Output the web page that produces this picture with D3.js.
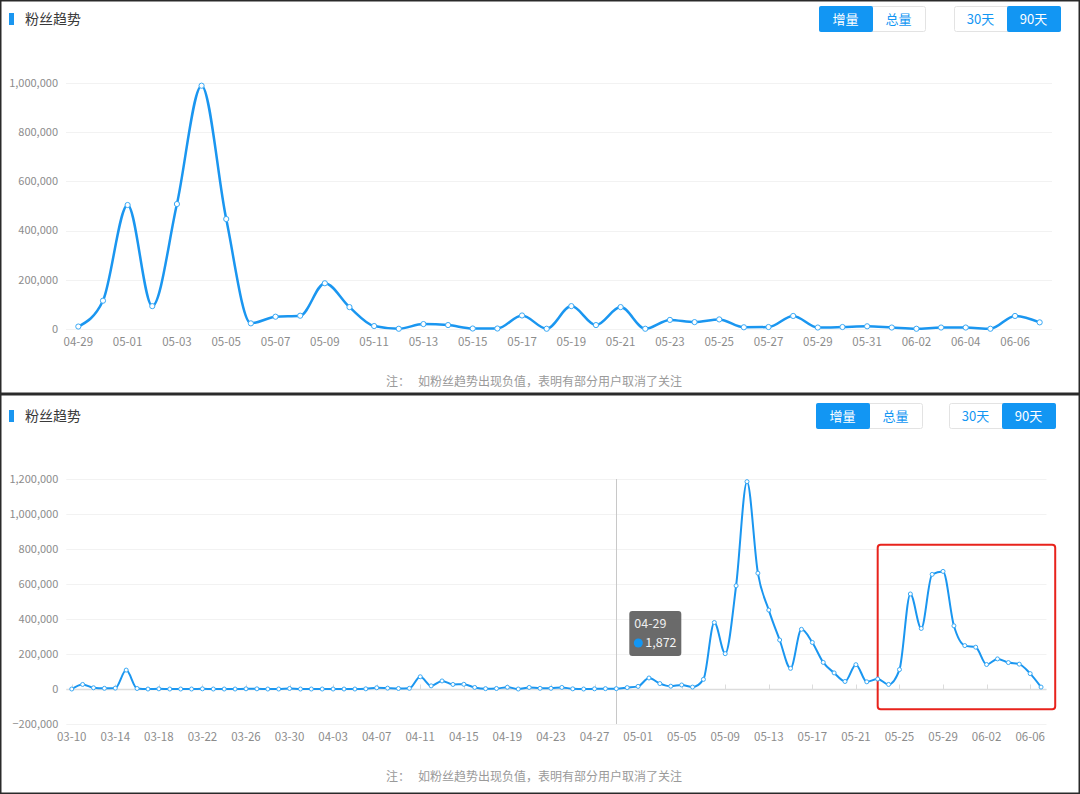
<!DOCTYPE html>
<html>
<head>
<meta charset="utf-8">
<script src="https://cdn.jsdelivr.net/npm/d3@7"></script>
<style>
html,body{margin:0;padding:0;background:#fff;}
svg{display:block;font-family:"PingFang SC","Noto Sans CJK SC","Noto Sans",sans-serif;}
</style>
</head>
<body>
<svg id="chart" width="1080" height="794"></svg>
<script>
// ---------- DATA ----------
const titleText = "粉丝趋势";
const noteText = "注：   如粉丝趋势出现负值，表明有部分用户取消了关注";
const toggleA = ["增量", "总量"];
const toggleB = ["30天", "90天"];

// Panel 1 (30-day view)
const dates30 = ["04-29","04-30","05-01","05-02","05-03","05-04","05-05","05-06","05-07","05-08",
  "05-09","05-10","05-11","05-12","05-13","05-14","05-15","05-16","05-17","05-18",
  "05-19","05-20","05-21","05-22","05-23","05-24","05-25","05-26","05-27","05-28",
  "05-29","05-30","05-31","06-01","06-02","06-03","06-04","06-05","06-06","06-07"];
const values30 = [10000,115000,504000,93000,508000,989000,447000,23000,50000,54000,
  186000,89000,12000,1000,20000,16000,2000,2000,55000,1000,
  93000,16000,89000,1000,37000,28000,39000,7000,8000,53000,
  6000,8000,11000,6000,1000,6000,6000,1000,53000,27000];
const yTicks30 = [0,200000,400000,600000,800000,1000000];
const xLabels30 = ["04-29","05-01","05-03","05-05","05-07","05-09","05-11","05-13","05-15","05-17",
  "05-19","05-21","05-23","05-25","05-27","05-29","05-31","06-02","06-04","06-06"];

// Panel 2 (90-day view)
const dates90 = ["03-10","03-11","03-12","03-13","03-14","03-15","03-16","03-17","03-18","03-19",
  "03-20","03-21","03-22","03-23","03-24","03-25","03-26","03-27","03-28","03-29","03-30","03-31",
  "04-01","04-02","04-03","04-04","04-05","04-06","04-07","04-08","04-09","04-10",
  "04-11","04-12","04-13","04-14","04-15","04-16","04-17","04-18","04-19","04-20",
  "04-21","04-22","04-23","04-24","04-25","04-26","04-27","04-28","04-29","04-30",
  "05-01","05-02","05-03","05-04","05-05","05-06","05-07","05-08","05-09","05-10",
  "05-11","05-12","05-13","05-14","05-15","05-16","05-17","05-18","05-19","05-20",
  "05-21","05-22","05-23","05-24","05-25","05-26","05-27","05-28","05-29","05-30","05-31",
  "06-01","06-02","06-03","06-04","06-05","06-06","06-07"];
const values90 = [0,26000,7000,4000,5000,108000,3000,0,1000,0,
  0,0,1000,0,0,0,1000,1000,0,0,3000,0,
  0,0,0,0,0,1000,7000,5000,3000,4000,
  70000,18000,46000,26000,27000,9000,2000,3000,10000,0,
  9000,4000,4000,9000,1000,0,1000,2000,1872,8000,
  15000,63000,31000,16000,23000,11000,55000,380000,202000,590000,
  1185000,662000,451000,280000,118000,341000,266000,152000,92000,43000,
  139000,41000,57000,26000,111000,543000,346000,655000,672000,361000,248000,
  239000,140000,172000,151000,142000,88000,11000];
const yTicks90 = [-200000,0,200000,400000,600000,800000,1000000,1200000];
const xLabels90 = ["03-10","03-14","03-18","03-22","03-26","03-30","04-03","04-07","04-11","04-15",
  "04-19","04-23","04-27","05-01","05-05","05-09","05-13","05-17","05-21","05-25","05-29","06-02","06-06"];
const tooltipDate = "04-29";
const highlightRange = ["05-23","06-07"];

// ---------- DRAW ----------
const BLUE = "#1a96f0";
const svg = d3.select("#chart");
const fmt = d3.format(",");

function panel(cfg) {
  const g = svg.append("g");
  // frame
  g.append("rect").attr("x", 0.75).attr("y", cfg.top + 0.75)
    .attr("width", 1078.5).attr("height", cfg.h - 1.5)
    .attr("fill", "#fff").attr("stroke", "#2a2a2a").attr("stroke-width", 1.5);
  // title
  g.append("rect").attr("x", 9).attr("y", cfg.top + cfg.titleY - 6).attr("width", 5).attr("height", 12)
    .attr("fill", BLUE);
  g.append("text").attr("x", 25).attr("y", cfg.top + cfg.titleY).attr("dy", "0.35em")
    .attr("font-size", 14).attr("fill", "#3a3a3a").text(titleText);
  // toggles
  function toggle(labels, x0, w, activeIdx) {
    const y = cfg.top + cfg.btnY;
    g.append("rect").attr("x", x0 + 0.5).attr("y", y + 0.5).attr("width", w * 2).attr("height", 25)
      .attr("rx", 2).attr("fill", "#fff").attr("stroke", "#e3e3e3");
    labels.forEach((lab, i) => {
      if (i === activeIdx) {
        g.append("rect").attr("x", x0 + i * w).attr("y", y).attr("width", w + 1).attr("height", 26)
          .attr("rx", 2).attr("fill", "#1296f3");
      }
      g.append("text").attr("x", x0 + i * w + w / 2).attr("y", y + 13).attr("dy", "0.35em")
        .attr("text-anchor", "middle").attr("font-size", 13)
        .attr("fill", i === activeIdx ? "#fff" : "#1296f3").text(lab);
    });
  }
  toggle(toggleA, cfg.btnA, cfg.btnW, 0);
  toggle(toggleB, cfg.btnB, cfg.btnW, 1);

  const x = d3.scaleBand().domain(cfg.dates).range([cfg.left, cfg.right]).padding(0);
  const cx = d => x(d) + x.bandwidth() / 2;
  const y = d3.scaleLinear().domain(cfg.yDomain).range([cfg.top + cfg.yBottom, cfg.top + cfg.yTop]);

  // grid
  g.append("g").selectAll("line").data(cfg.yTicks).join("line")
    .attr("x1", cfg.left).attr("x2", cfg.right)
    .attr("y1", d => Math.round(y(d)) + 0.5).attr("y2", d => Math.round(y(d)) + 0.5)
    .attr("stroke", "#f2f2f2").attr("stroke-width", 1);
  // y labels
  g.append("g").selectAll("text").data(cfg.yTicks).join("text")
    .attr("x", cfg.left - 8).attr("y", d => y(d)).attr("dy", "0.35em")
    .attr("text-anchor", "end").attr("font-size", 11).attr("fill", "#8c8c8c")
    .text(d => fmt(d));
  // zero axis line (90 view)
  if (cfg.axisLine) {
    const y0 = Math.round(y(0)) + 0.5;
    g.append("line").attr("x1", cfg.left).attr("x2", cfg.right).attr("y1", y0).attr("y2", y0)
      .attr("stroke", "#dcdcdc").attr("stroke-width", 1.5);
    g.append("g").selectAll("line").data(cfg.xLabels).join("line")
      .attr("x1", d => Math.round(cx(d)) + 0.5).attr("x2", d => Math.round(cx(d)) + 0.5)
      .attr("y1", y0).attr("y2", y0 - 5).attr("stroke", "#dcdcdc");
  }
  // x labels
  g.append("g").selectAll("text").data(cfg.xLabels).join("text")
    .attr("x", d => cx(d)).attr("y", cfg.top + cfg.xLabelY).attr("dy", "0.35em")
    .attr("text-anchor", "middle").attr("font-size", 11.5).attr("fill", "#8c8c8c")
    .text(d => d);

  // highlight box
  if (cfg.highlight) {
    const hx0 = cx(cfg.highlight[0]);
    const hx1 = x(cfg.highlight[1]) + x.bandwidth() * 1.8;
    const hy0 = y(cfg.highlightY[1]);
    const hy1 = y(cfg.highlightY[0]);
    g.append("rect").attr("x", hx0).attr("y", hy0).attr("width", hx1 - hx0).attr("height", hy1 - hy0)
      .attr("rx", 3).attr("fill", "none").attr("stroke", "#e8231c").attr("stroke-width", 2);
  }
  // axis pointer
  if (cfg.pointer) {
    const px = Math.round(cx(cfg.pointer)) + 0.5;
    g.append("line").attr("x1", px).attr("x2", px)
      .attr("y1", cfg.top + cfg.yTop).attr("y2", y(cfg.yDomain[0]))
      .attr("stroke", "#c8c8c8").attr("stroke-width", 1);
  }

  // line
  const data = cfg.dates.map((d, i) => ({ d, v: cfg.values[i] }));
  const line = d3.line().x(p => cx(p.d)).y(p => y(p.v)).curve(d3.curveMonotoneX);
  g.append("path").datum(data).attr("d", line).attr("fill", "none")
    .attr("stroke", BLUE).attr("stroke-width", cfg.lw).attr("stroke-linejoin", "round");
  g.append("g").selectAll("circle").data(data).join("circle")
    .attr("cx", p => cx(p.d)).attr("cy", p => y(p.v)).attr("r", cfg.r)
    .attr("fill", "#fff").attr("stroke", "#3aa9f5").attr("stroke-width", 1);

  // tooltip
  if (cfg.pointer) {
    const idx = cfg.dates.indexOf(cfg.pointer);
    const tx = cx(cfg.pointer) + 13, ty = cfg.top + 217;
    g.append("rect").attr("x", tx).attr("y", ty).attr("width", 52).attr("height", 45)
      .attr("rx", 3).attr("fill", "rgba(90,90,90,0.9)");
    g.append("text").attr("x", tx + 5).attr("y", ty + 13).attr("dy", "0.35em")
      .attr("font-size", 12.5).attr("fill", "#eee").text(cfg.pointer);
    g.append("circle").attr("cx", tx + 9).attr("cy", ty + 32).attr("r", 4.5).attr("fill", "#1296f3");
    g.append("text").attr("x", tx + 16).attr("y", ty + 32).attr("dy", "0.35em")
      .attr("font-size", 12.5).attr("fill", "#f4f4f4").text(fmt(cfg.values[idx]));
  }

  // note
  g.append("text").attr("x", 534).attr("y", cfg.top + cfg.noteY).attr("dy", "0.35em")
    .attr("text-anchor", "middle").attr("font-size", 12).attr("fill", "#9a9a9a")
    .attr("xml:space", "preserve").style("white-space", "pre").text(noteText);
}

panel({
  top: 0, h: 394, titleY: 19, btnY: 6, btnA: 819, btnB: 954, btnW: 53,
  dates: dates30, values: values30, yTicks: yTicks30, xLabels: xLabels30,
  left: 66, right: 1052, yDomain: [0, 1000000], yBottom: 329, yTop: 83,
  xLabelY: 342, noteY: 382, lw: 2.5, r: 2.6, axisLine: false
});
panel({
  top: 394, h: 400, titleY: 22, btnY: 9, btnA: 816, btnB: 949, btnW: 53,
  dates: dates90, values: values90, yTicks: yTicks90, xLabels: xLabels90,
  left: 66.3, right: 1046.5, yDomain: [-200000, 1200000], yBottom: 330, yTop: 85,
  xLabelY: 342.5, noteY: 382.5, lw: 2, r: 2, axisLine: true,
  highlight: highlightRange, highlightY: [-115000, 825000], pointer: tooltipDate
});
</script>
</body>
</html>
